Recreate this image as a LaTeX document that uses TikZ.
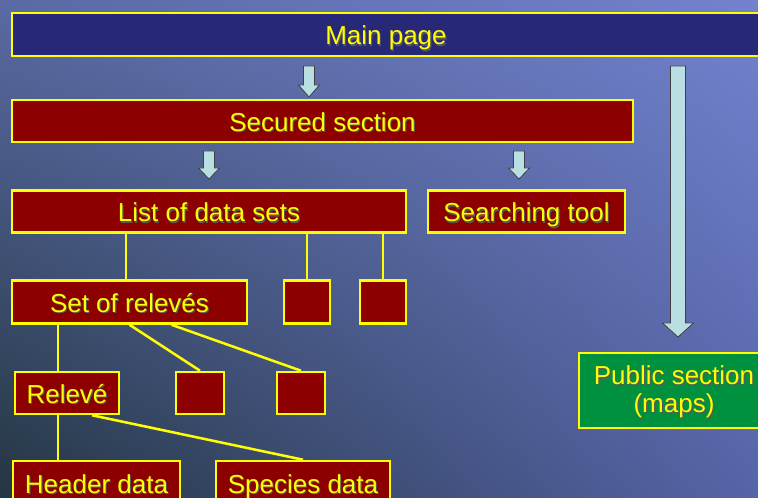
\documentclass[tikz,border=0pt]{standalone}
\usepackage{fontspec}
\setmainfont{Liberation Sans}
\usepackage{tikz}
\usepackage{xcolor}
\usetikzlibrary{shadings}

\definecolor{pagenavy}{HTML}{282878}
\definecolor{boxred}{HTML}{8C0000}
\definecolor{boxgreen}{HTML}{00913F}
\definecolor{linkyellow}{HTML}{FFFF00}
\definecolor{arrowfill}{HTML}{BADFE2}
\definecolor{bgtl}{RGB}{90,106,164}
\definecolor{bgtr}{RGB}{114,130,206}
\definecolor{bgbl}{RGB}{36,54,66}
\definecolor{bgbr}{RGB}{86,100,168}

% yellow text with a small dark drop shadow
\newcommand{\shadowed}[1]{\makebox[0pt][l]{\kern0.8pt\raisebox{-0.8pt}{\textcolor{black!65}{#1}}}#1}

% hollow down arrow: x, top, tip, half shaft, half head, head length
\newcommand{\blockdown}[6]{%
	\draw[blockarrow] (#1-#4,#2) -- (#1+#4,#2) -- (#1+#4,#3-#6) -- (#1+#5,#3-#6)
		-- (#1,#3) -- (#1-#5,#3-#6) -- (#1-#4,#3-#6) -- cycle;}

\begin{document}
\begin{tikzpicture}[
	x=0.75pt, y=-0.75pt,
	every node/.style={font=\fontsize{19.5}{21}\selectfont, text=linkyellow},
	part/.style={draw=linkyellow, line width=1.9pt, fill=boxred, minimum height=31.5pt, inner sep=0pt, align=center},
	page/.style={part, text height=15.75pt, text depth=0pt},
	top/.style={page, fill=pagenavy, minimum height=32.25pt},
	public/.style={part, fill=boxgreen, text height=36pt, text depth=2.25pt},
	link/.style={draw=linkyellow, line width=1.9pt},
	blockarrow/.style={draw=black!75, line width=0.6pt, fill=arrowfill}
]
\useasboundingbox (0,0) rectangle (758,498);
\clip (0,0) rectangle (758,498);
\shade[upper left=bgtl, upper right=bgtr, lower left=bgbl, lower right=bgbr]
	(0,0) rectangle (758,498);

% pages
\node[top, minimum width=561pt] (main) at (386,34.5) {\shadowed{Main page}};
\node[page, minimum width=465.75pt] (secured) at (322.5,121) {\shadowed{Secured section}};
\node[page, minimum width=295.5pt] (list) at (209,211.5) {\shadowed{List of data sets}};
\node[page, minimum width=147.75pt] (searching) at (526.5,211.5) {\shadowed{Searching tool}};
\node[page, minimum width=176.25pt, minimum height=32.25pt] (set) at (129.5,302) {\shadowed{Set of relev\'es}};
\node[part, minimum width=34.5pt, minimum height=32.25pt] (dsa) at (307,302) {};
\node[part, minimum width=34.5pt, minimum height=32.25pt] (dsb) at (383,302) {};
\node[page, minimum width=78pt] (releve) at (67,393) {\shadowed{Relev\'e}};
\node[part, minimum width=36pt] (rsa) at (200,393) {};
\node[part, minimum width=36pt] (rsb) at (301,393) {};
\node[page, minimum width=125.25pt, minimum height=33pt] (header) at (96.5,483) {\shadowed{Header data}};
\node[page, minimum width=130.5pt, minimum height=33pt] (species) at (303,483) {\shadowed{Species data}};
\node[public, minimum width=142.5pt, minimum height=56.25pt] (publicsec) at (674,390.5)
	{\shadowed{Public section}\\\shadowed{(maps)}};

% links
\draw[link] ([xshift=-2.6pt]set.north) -- ([xshift=-2.6pt]set.north |- list.south);
\draw[link] (dsa.north) -- (dsa.north |- list.south);
\draw[link] (dsb.north) -- (dsb.north |- list.south);
\draw[link] ([xshift=-6.75pt]releve.north) -- ([xshift=-6.75pt]releve.north |- set.south);
\draw[link] (set.south) -- (rsa.north);
\draw[link] ([xshift=31.5pt]set.south) -- (rsb.north);
\draw[link] ([xshift=-6.75pt]releve.south) -- ([xshift=-6.75pt]releve.south |- header.north);
\draw[link] ([xshift=18.75pt]releve.south) -- (species.north);

% arrows
\blockdown{309}{66}{97}{5.5}{10.5}{12}
\blockdown{209}{151}{179}{5.5}{10.5}{11}
\blockdown{519}{151}{179}{5.5}{10.5}{11}
\blockdown{678}{66}{337}{7.5}{15.5}{14}
\end{tikzpicture}
\end{document}
